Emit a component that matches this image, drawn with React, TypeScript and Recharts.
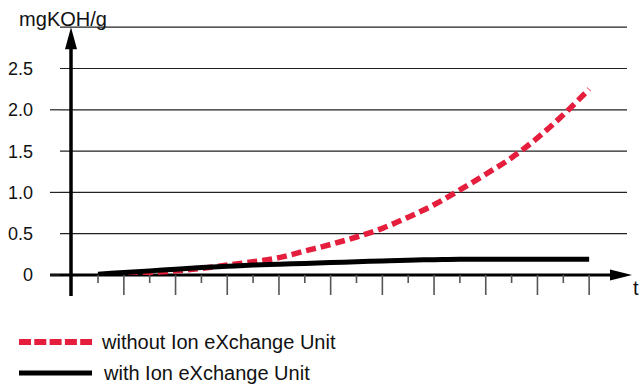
import React from 'react';
import { LineChart, Line, XAxis, YAxis, CartesianGrid, ReferenceLine, Legend } from 'recharts';

const timeSteps = [0, 1, 2, 3, 4, 5, 6, 7, 8, 9, 10, 11, 12, 13, 14, 15, 16, 17, 18, 19];
const withoutUnit = [0, 0.01, 0.03, 0.05, 0.08, 0.12, 0.16, 0.21, 0.29, 0.37, 0.46, 0.565, 0.7, 0.85, 1.03, 1.22, 1.42, 1.66, 1.94, 2.25];
const withUnit = [0.01, 0.03, 0.05, 0.07, 0.09, 0.105, 0.12, 0.13, 0.14, 0.15, 0.16, 0.17, 0.18, 0.185, 0.19, 0.19, 0.19, 0.19, 0.19, 0.19];
const yTicks = [0, 0.5, 1, 1.5, 2, 2.5];
const yTickLabels = ['0', '0.5', '1.0', '1.5', '2.0', '2.5'];
const seriesNames = ['without Ion eXchange Unit', 'with Ion eXchange Unit'];
const yAxisTitle = 'mgKOH/g';
const xAxisTitle = 't';

const RED = '#e41e3c';
const FONT = '"Liberation Sans", Arial, Helvetica, sans-serif';

const data = timeSteps.map((t, i) => ({ t, without: withoutUnit[i], with: withUnit[i] }));

const YTick = (props: any) => {
  const { x, y, payload } = props;
  const v = payload.value;
  const idx = yTicks.indexOf(v);
  const isInt = Number.isInteger(v);
  return (
    <g>
      {isInt && <line x1={x - 10} y1={y} x2={x} y2={y} stroke="#222" strokeWidth={1.2} />}
      <text x={x - 27} y={y} dy="0.36em" textAnchor="end" fontFamily={FONT} fontSize={18} fill="#111">
        {yTickLabels[idx]}
      </text>
    </g>
  );
};

const XTick = (props: any) => {
  const { x, y, payload } = props;
  const len = payload.value % 2 === 1 ? 20 : 8;
  return <line x1={x} y1={y} x2={x} y2={y + len} stroke="#555" strokeWidth={1.6} />;
};

const YArrow = (props: any) => {
  const { x1, y1, y2 } = props;
  const top = Math.min(y1, y2);
  const bottom = Math.max(y1, y2);
  const x = x1;
  return (
    <g>
      <line x1={x} y1={bottom} x2={x} y2={top + 18} stroke="#000" strokeWidth={3.5} />
      <polygon points={`${x},${top} ${x - 6},${top + 22} ${x + 6},${top + 22}`} fill="#000" />
      <text x={x - 8} y={top - 1} textAnchor="middle" fontFamily={FONT} fontSize={20} fill="#111">
        {yAxisTitle}
      </text>
    </g>
  );
};

const XArrow = (props: any) => {
  const { x1, y1, x2 } = props;
  const left = Math.min(x1, x2);
  const right = Math.max(x1, x2);
  const y = y1;
  return (
    <g>
      <line x1={left} y1={y} x2={right - 18} y2={y} stroke="#000" strokeWidth={2.8} />
      <polygon points={`${right},${y} ${right - 22},${y - 5.5} ${right - 22},${y + 5.5}`} fill="#000" />
      <text x={right + 1} y={y + 20} fontFamily={FONT} fontSize={20} fill="#111">
        {xAxisTitle}
      </text>
    </g>
  );
};

const LegendContent = () => (
  <div style={{ fontFamily: FONT, fontSize: 20, color: '#111', lineHeight: '20px' }}>
    <div style={{ display: 'flex', alignItems: 'center', height: 31 }}>
      <svg width={83} height={10} style={{ marginLeft: 19, flex: 'none' }}>
        <line x1={0} y1={5} x2={73} y2={5} stroke={RED} strokeWidth={6} strokeDasharray="12 3.3" />
      </svg>
      <span style={{ whiteSpace: 'nowrap' }}>{seriesNames[0]}</span>
    </div>
    <div style={{ display: 'flex', alignItems: 'center', height: 31 }}>
      <svg width={85} height={10} style={{ marginLeft: 19, flex: 'none' }}>
        <line x1={0} y1={5} x2={73} y2={5} stroke="#000" strokeWidth={5} />
      </svg>
      <span style={{ whiteSpace: 'nowrap' }}>{seriesNames[1]}</span>
    </div>
  </div>
);

const PX_PER_STEP = 25.85;
const FIRST_TICK_PX = 98;
const toStep = (px: number) => (px - FIRST_TICK_PX) / PX_PER_STEP;

export default function App() {
  return (
    <div style={{ position: 'absolute', left: 0, top: 0, background: '#fff' }}>
      <LineChart
        width={640}
        height={387}
        data={data}
        margin={{ top: 27.2, right: 13, bottom: 82, left: 0 }}
      >
        <CartesianGrid horizontal vertical={false} stroke="#222" strokeWidth={1.2} />
        <XAxis
          dataKey="t"
          type="number"
          domain={[toStep(60), toStep(627)]}
          allowDataOverflow
          ticks={timeSteps}
          interval={0}
          axisLine={false}
          tickLine={false}
          tickSize={0}
          tickMargin={0}
          height={30}
          tick={<XTick />}
        />
        <YAxis
          type="number"
          domain={[0, 3]}
          ticks={yTicks}
          interval={0}
          allowDataOverflow
          axisLine={false}
          tickLine={false}
          tickSize={0}
          tickMargin={0}
          width={60}
          tick={<YTick />}
        />
        <ReferenceLine
          segment={[{ x: toStep(71), y: -0.254 }, { x: toStep(71), y: 3 }]}
          ifOverflow="visible"
          shape={<YArrow />}
        />
        <ReferenceLine
          segment={[{ x: toStep(50), y: 0 }, { x: toStep(632), y: 0 }]}
          ifOverflow="visible"
          shape={<XArrow />}
        />
        <Line
          type="monotone"
          dataKey="without"
          name={seriesNames[0]}
          stroke={RED}
          strokeWidth={5.5}
          strokeDasharray="10 5"
          dot={false}
          activeDot={false}
          isAnimationActive={false}
        />
        <Line
          type="monotone"
          dataKey="with"
          name={seriesNames[1]}
          stroke="#000"
          strokeWidth={5}
          dot={false}
          activeDot={false}
          isAnimationActive={false}
        />
        <Legend
          layout="horizontal"
          verticalAlign="middle"
          align="center"
          content={<LegendContent />}
          wrapperStyle={{ left: 0, top: 326, width: 400 }}
        />
      </LineChart>
    </div>
  );
}
